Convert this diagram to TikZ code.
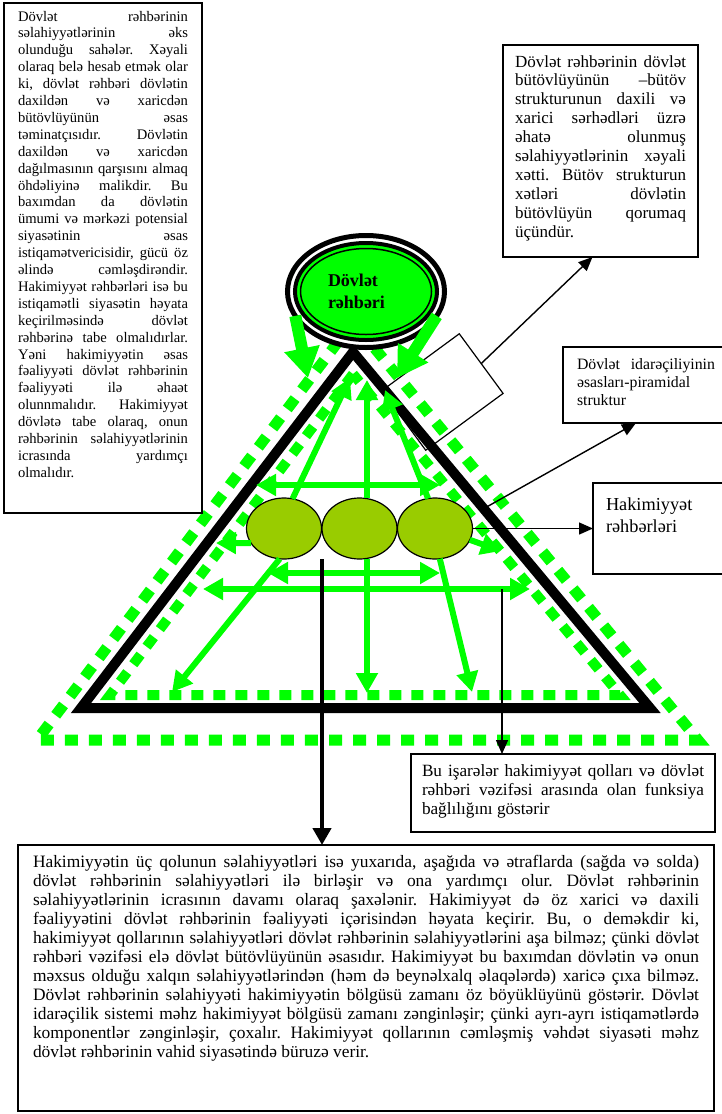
\documentclass[tikz,border=0pt]{standalone}
\usepackage{fontspec}
\setmainfont{Liberation Serif}
\usetikzlibrary{positioning,shapes.geometric,arrows.meta,calc}
\definecolor{grn}{RGB}{0,255,0}
\definecolor{branchgreen}{RGB}{153,204,0}
\tolerance=10000 \hbadness=10000 \hyphenpenalty=10000 \exhyphenpenalty=10000
\frenchspacing
\tikzset{
	memo/.style={draw, line width=1.8pt, anchor=north west, align=justify, inner ysep=8pt, text height=14pt, outer sep=0pt},
	rim/.style={draw=grn, line width=11pt, dash pattern=on 13pt off 11pt},
	flow/.style={draw=grn, line width=6pt, >={Triangle[width=21pt,length=20pt]}, ->},
	twoway/.style={flow, <->},
	pull/.style={draw=grn, line width=12pt, >={Triangle[width=34pt,length=30pt]}, ->},
	ptr/.style={draw, line width=1.4pt, >={Triangle[width=12pt,length=14pt]}, ->},
	stemarrow/.style={draw, line width=4.5pt, >={Triangle[width=18pt,length=17pt]}, ->},
	branch/.style={ellipse, draw, line width=1.2pt, fill=branchgreen, minimum width=75pt, minimum height=61pt, inner sep=0pt, outer sep=0pt},
	tilted/.style={draw, line width=1.2pt, minimum width=74pt, minimum height=96pt, rotate=-53.7, inner sep=0pt, outer sep=0pt},
	head/.style={ellipse, minimum width=157pt, minimum height=112pt, inner sep=0pt, outer sep=0pt, text width=76pt, align=left, font=\fontsize{18}{22}\selectfont\bfseries}
}
\begin{document}
\begin{tikzpicture}[x=1pt,y=-1pt]
	\useasboundingbox (0,0) rectangle (722,1114);

	\coordinate (apex) at (353,352);
	\coordinate (bl) at (81,708);
	\coordinate (br) at (650,708);
	\coordinate (oapex) at (353,322);
	\coordinate (obl) at (37,740);
	\coordinate (obr) at (698,740);
	\coordinate (iapex) at (353,374);
	\coordinate (ibl) at (110,695);
	\coordinate (ibr) at (620,695);

	\node[tilted] (seal) at (442.5,392) {};

	\draw[rim] (oapex) -- (obl) -- (obr) -- cycle;
	\draw[rim, line width=10pt, dash pattern=on 12pt off 10pt] (iapex) -- (ibl) -- (ibr) -- cycle;
	\draw[line width=10pt] (apex) -- (bl) -- (br) -- cycle;

	\node[branch] (c1) at (284,528.5) {};
	\node[branch] (c2) at (359.5,528.5) {};
	\node[branch] (c3) at (435,528.5) {};

	\coordinate (upL) at (350,378);
	\coordinate (upM) at (367,380);
	\coordinate (upR) at (385,390);
	\coordinate (dnL) at (172,692);
	\coordinate (dnM) at (367,693);
	\coordinate (dnR) at (472,692);
	\coordinate (sideL) at (216,543);
	\coordinate (sideR) at (501,551);
	\coordinate (h1l) at (256,485);
	\coordinate (h1r) at (440,485);
	\coordinate (h2l) at (268,573);
	\coordinate (h2r) at (440,573);
	\coordinate (h3l) at (203,589);
	\coordinate (h3r) at (530,589);

	\draw[flow] (c1.74) -- (upL);
	\draw[flow] ([xshift=7.5pt]c2.north) -- (upM);
	\draw[flow] (c3.103) -- (upR);
	\draw[flow] (c1.262) -- (dnL);
	\draw[flow] ([xshift=7.5pt]c2.south) -- (dnM);
	\draw[flow] (c3.279) -- (dnR);
	\draw[flow] (c1.204) -- (sideL);
	\draw[flow] (c3.342) -- (sideR);
	\draw[twoway] (h1l) -- (h1r);
	\draw[twoway] (h2l) -- (h2r);
	\draw[twoway] (h3l) -- (h3r);

	\coordinate (hc) at (366,291.5);
	\draw[line width=5pt, fill=white] (hc) ellipse [x radius=78.5pt, y radius=56pt];
	\draw[line width=4pt, fill=grn] (hc) ellipse [x radius=71pt, y radius=48.5pt];
	\draw[line width=1.5pt] (hc) ellipse [x radius=65.5pt, y radius=43pt];
	\node[head] (head) at (hc) {Dövlət\\rəhbəri};

	\coordinate (dropL) at (308,378);
	\coordinate (dropR) at (397,378);
	\draw[pull] (head.199) -- (dropL);
	\draw[pull] (head.341) -- (dropR);

	\node[memo, text width=170pt, inner xsep=14pt, text height=11pt, inner ysep=7pt, text depth=485pt, font=\fontsize{14.6}{16.9}\selectfont] (powers) at (4,3) {Dövlət rəhbərinin\linebreak
		səlahiyyətlərinin əks\linebreak
		olunduğu sahələr. Xəyali\linebreak
		olaraq belə hesab etmək olar\linebreak
		ki, dövlət rəhbəri dövlətin\linebreak
		daxildən və xaricdən\linebreak
		bütövlüyünün əsas\linebreak
		təminatçısıdır. Dövlətin\linebreak
		daxildən və xaricdən\linebreak
		dağılmasının qarşısını almaq\linebreak
		öhdəliyinə malikdir. Bu\linebreak
		baxımdan da dövlətin\linebreak
		ümumi və mərkəzi potensial\linebreak
		siyasətinin əsas\linebreak
		istiqamətvericisidir, gücü öz\linebreak
		əlində cəmləşdirəndir.\linebreak
		Hakimiyyət rəhbərləri isə bu\linebreak
		istiqamətli siyasətin həyata\linebreak
		keçirilməsində dövlət\linebreak
		rəhbərinə tabe olmalıdırlar.\linebreak
		Yəni hakimiyyətin əsas\linebreak
		fəaliyyəti dövlət rəhbərinin\linebreak
		fəaliyyəti ilə əhaət\linebreak
		olunnmalıdır. Hakimiyyət\linebreak
		dövlətə tabe olaraq, onun\linebreak
		rəhbərinin səlahiyyətlərinin\linebreak
		icrasında yardımçı\linebreak
		olmalıdır.};

	\node[memo, text width=171pt, inner xsep=12pt, text depth=182pt, font=\fontsize{17}{18.9}\selectfont] (frame) at (503,45) {Dövlət rəhbərinin dövlət\linebreak
		bütövlüyünün –bütöv\linebreak
		strukturunun daxili və\linebreak
		xarici sərhədləri üzrə\linebreak
		əhatə olunmuş\linebreak
		səlahiyyətlərinin xəyali\linebreak
		xətti. Bütöv strukturun\linebreak
		xətləri dövlətin\linebreak
		bütövlüyün qorumaq\linebreak
		üçündür.};

	\node[memo, text width=138pt, inner xsep=14pt, text depth=46pt, font=\fontsize{15.8}{18.3}\selectfont] (base) at (563,347) {Dövlət idarəçiliyinin\linebreak
		əsasları-piramidal\linebreak
		struktur};

	\node[memo, align=left, text width=110pt, inner xsep=13pt, text height=17pt, inner ysep=10pt, text depth=54pt, font=\fontsize{18.3}{22}\selectfont] (lead) at (593,483) {Hakimiyyət\\rəhbərləri};

	\node[memo, text width=282pt, inner xsep=11pt, text depth=48pt, font=\fontsize{17.2}{19.2}\selectfont] (signs) at (411,754) {Bu işarələr hakimiyyət qolları və dövlət\linebreak
		rəhbəri vəzifəsi arasında olan funksiya\linebreak
		bağlılığını göstərir};

	\node[memo, text width=666pt, inner xsep=15pt, text depth=236pt, font=\fontsize{17.4}{19}\selectfont] (summary) at (18,845) {Hakimiyyətin üç qolunun səlahiyyətləri isə yuxarıda, aşağıda və ətraflarda (sağda və solda)\linebreak
		dövlət rəhbərinin səlahiyyətləri ilə birləşir və ona yardımçı olur. Dövlət rəhbərinin\linebreak
		səlahiyyətlərinin icrasının davamı olaraq şaxələnir. Hakimiyyət də öz xarici və daxili\linebreak
		fəaliyyətini dövlət rəhbərinin fəaliyyəti içərisindən həyata keçirir. Bu, o deməkdir ki,\linebreak
		hakimiyyət qollarının səlahiyyətləri dövlət rəhbərinin səlahiyyətlərini aşa bilməz; çünki dövlət\linebreak
		rəhbəri vəzifəsi elə dövlət bütövlüyünün əsasıdır. Hakimiyyət bu baxımdan dövlətin və onun\linebreak
		məxsus olduğu xalqın səlahiyyətlərindən (həm də beynəlxalq əlaqələrdə) xaricə çıxa bilməz.\linebreak
		Dövlət rəhbərinin səlahiyyəti hakimiyyətin bölgüsü zamanı öz böyüklüyünü göstərir. Dövlət\linebreak
		idarəçilik sistemi məhz hakimiyyət bölgüsü zamanı zənginləşir; çünki ayrı-ayrı istiqamətlərdə\linebreak
		komponentlər zənginləşir, çoxalır. Hakimiyyət qollarının cəmləşmiş vəhdət siyasəti məhz\linebreak
		dövlət rəhbərinin vahid siyasətində büruzə verir.};

	\draw[ptr] (seal.north) -- ([xshift=-8pt]frame.south);
	\coordinate (rside) at ($(apex)!0.44!(br)$);
	\draw[ptr] (rside) -- ([xshift=-10pt]base.south);
	\draw[ptr] (c3.east) -- (lead.west);
	\coordinate (mark) at (502,589);
	\draw[ptr] (mark) -- (mark |- signs.north);
	\coordinate (stem) at (322,559);
	\draw[stemarrow] (stem) -- (stem |- summary.north);
\end{tikzpicture}
\end{document}
